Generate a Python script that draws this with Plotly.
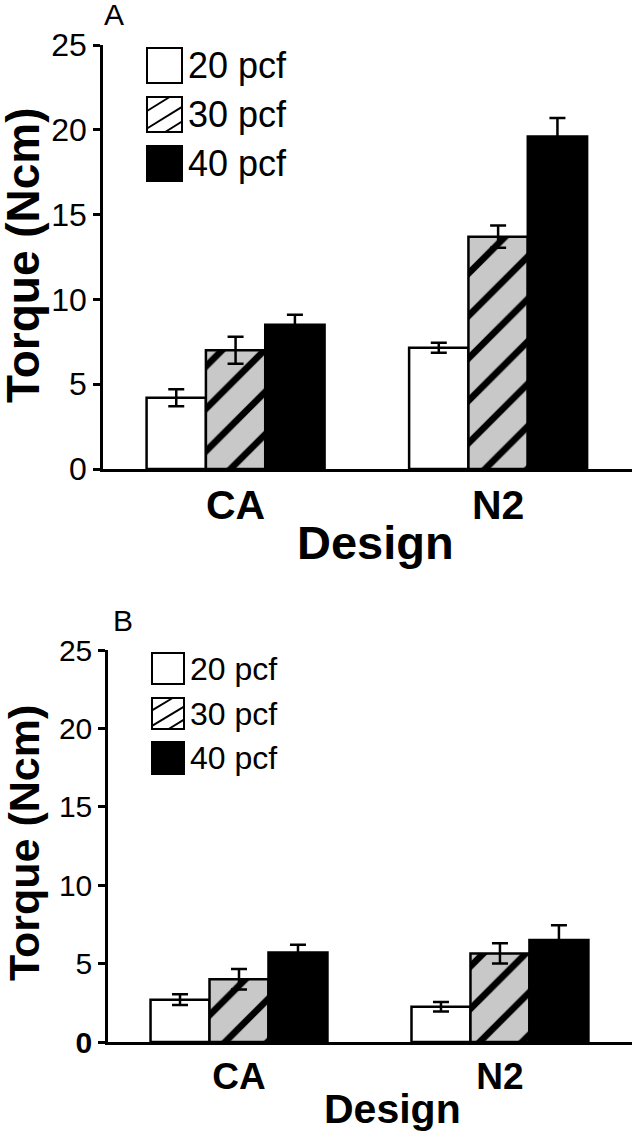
import plotly.graph_objects as go

W, H = 632, 1137

designs = ["CA", "N2"]
series_names = ["20 pcf", "30 pcf", "40 pcf"]

# Panel A
a_20 = [4.2, 7.15]
a_20_err = [0.5, 0.3]
a_30 = [7.0, 13.7]
a_30_err = [0.8, 0.65]
a_40 = [8.5, 19.6]
a_40_err = [0.6, 1.1]

# Panel B
b_20 = [2.7, 2.25]
b_20_err = [0.34, 0.3]
b_30 = [4.0, 5.65]
b_30_err = [0.65, 0.65]
b_40 = [5.7, 6.5]
b_40_err = [0.5, 0.95]

y_ticks = [0, 5, 10, 15, 20, 25]
y_ticktext_a = ["0", "5", "10", "15", "20", "25"]
y_ticktext_b = ["<b>0</b>", "5", "10", "15", "20", "25"]

FONT = "Liberation Sans, Arial, sans-serif"
GRAY = "#c8c8c8"


def px(x):
    return x / W


def py(y):
    return 1 - y / H


styles = [
    dict(color="white", pattern=None),
    dict(color=GRAY, pattern=dict(shape="/", bgcolor=GRAY, fgcolor="black", size=30, solidity=0.22, fillmode="replace")),
    dict(color="black", pattern=None),
]

fig = go.Figure()

panels = [
    ("x", "y", [a_20, a_30, a_40], [a_20_err, a_30_err, a_40_err]),
    ("x2", "y2", [b_20, b_30, b_40], [b_20_err, b_30_err, b_40_err]),
]

for xa, ya, vals, errs in panels:
    for name, v, e, st in zip(series_names, vals, errs, styles):
        marker = dict(color=st["color"], line=dict(color="black", width=2.5))
        if st["pattern"] is not None:
            marker["pattern"] = st["pattern"]
        fig.add_trace(go.Bar(
            x=designs, y=v, name=name, xaxis=xa, yaxis=ya,
            marker=marker, showlegend=False,
            error_y=dict(type="data", array=e, visible=True, color="black", thickness=2.5, width=8),
        ))

axis_common = dict(showline=True, linecolor="black", linewidth=2.5, showgrid=False, zeroline=False,
                   automargin=False)

fig.update_layout(
    width=W, height=H,
    margin=dict(l=0, r=0, t=0, b=0, autoexpand=False),
    paper_bgcolor="white", plot_bgcolor="white",
    barmode="group", bargap=0.322, bargroupgap=0,
    font=dict(family=FONT, color="black"),
    showlegend=False,
    xaxis=dict(domain=[px(103), 1], anchor="y", range=[-0.505, 1.51], ticks="",
               tickfont=dict(size=41, weight="bold"), ticklabelstandoff=-2, **axis_common),
    yaxis=dict(domain=[py(469), py(45)], anchor="x", range=[0, 25], tickvals=y_ticks, ticktext=y_ticktext_a,
               ticks="outside", ticklen=7, tickwidth=2.5, tickcolor="black",
               tickfont=dict(size=32), **axis_common),
    xaxis2=dict(domain=[px(108), 1], anchor="y2", range=[-0.502, 1.506], ticks="",
                tickfont=dict(size=37, weight="bold"), ticklabelstandoff=0, **axis_common),
    yaxis2=dict(domain=[py(1042), py(650)], anchor="x2", range=[0, 25], tickvals=y_ticks, ticktext=y_ticktext_b,
                ticks="outside", ticklen=7, tickwidth=2.5, tickcolor="black",
                tickfont=dict(size=30), **axis_common),
)

ann = []
shapes = []

# Panel letters
ann.append(dict(text="A", x=px(114), y=py(15), xref="paper", yref="paper", showarrow=False,
                xanchor="center", yanchor="middle", font=dict(size=30)))
ann.append(dict(text="B", x=px(123), y=py(620), xref="paper", yref="paper", showarrow=False,
                xanchor="center", yanchor="middle", font=dict(size=30)))

# Axis titles
ann.append(dict(text="Torque (Ncm)", x=px(23), y=py(255), xref="paper", yref="paper", showarrow=False,
                textangle=-90, xanchor="center", yanchor="middle", font=dict(size=46, weight="bold")))
ann.append(dict(text="Torque (Ncm)", x=px(24), y=py(843), xref="paper", yref="paper", showarrow=False,
                textangle=-90, xanchor="center", yanchor="middle", font=dict(size=43, weight="bold")))
ann.append(dict(text="Design", x=px(376), y=py(542), xref="paper", yref="paper", showarrow=False,
                xanchor="center", yanchor="middle", font=dict(size=47, weight="bold")))
ann.append(dict(text="Design", x=px(392), y=py(1109), xref="paper", yref="paper", showarrow=False,
                xanchor="center", yanchor="middle", font=dict(size=41, weight="bold")))


# Manual legends (large swatches)
def legend(x0, x1, rows, text_x, fsize):
    fills = ["white", "white", "black"]
    for i, ((y0, y1), name) in enumerate(zip(rows, series_names)):
        shapes.append(dict(type="rect", xref="paper", yref="paper", x0=px(x0), x1=px(x1), y0=py(y1), y1=py(y0),
                           line=dict(color="black", width=2), fillcolor=fills[i]))
        if i == 1:
            s = x1 - x0
            segs = [((0, 0.6), (0.645, 1.0)), ((0, 0.1), (1.0, 0.72)), ((0.52, 0), (1.0, 0.3))]
            for (u0, v0), (u1, v1) in segs:
                shapes.append(dict(type="line", xref="paper", yref="paper",
                                   x0=px(x0 + u0 * s), y0=py(y1 - v0 * (y1 - y0)),
                                   x1=px(x0 + u1 * s), y1=py(y1 - v1 * (y1 - y0)),
                                   line=dict(color="black", width=2)))
        ann.append(dict(text=name, x=px(text_x), y=py((y0 + y1) / 2), xref="paper", yref="paper",
                        showarrow=False, xanchor="left", yanchor="middle", font=dict(size=fsize)))


legend(147, 182, [(48, 83), (97, 132), (146, 181)], 186, 36)
legend(152, 184, [(653, 684), (698, 729), (742, 774)], 188, 32)

fig.update_layout(annotations=ann, shapes=shapes)

fig.write_html(
    "out.html",
    config={"displayModeBar": False},
    post_script="document.body.style.margin='0';document.body.style.overflow='hidden';",
)
